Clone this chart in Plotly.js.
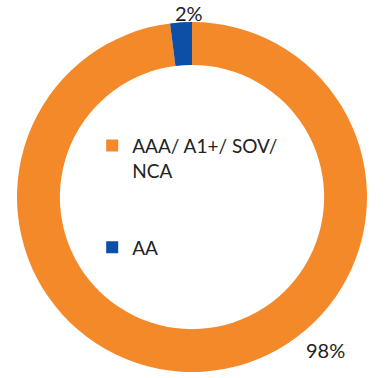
<!DOCTYPE html>
<html>
<head>
<meta charset="utf-8">
<script src="https://cdn.plot.ly/plotly-3.0.1.min.js"></script>
<style>html,body{margin:0;padding:0;background:#fff;}#chart{width:389px;height:378px;}</style>
</head>
<body>
<div id="chart"></div>
<script>
var categories = ["AAA/ A1+/ SOV/<br>NCA<br> <br> ", "AA"];
var values = [98, 2];
var percentLabels = ["98%", "2%"];
var colors = ["#F4892A", "#0C4FA6"];

var data = [{
  type: "pie",
  labels: categories,
  values: values,
  sort: false,
  direction: "clockwise",
  rotation: 0,
  hole: 0.755,
  textinfo: "none",
  marker: {colors: colors, line: {width: 0}},
  domain: {x: [16/389, 368/389], y: [1 - 372/378, 1 - 22/378]},
  hoverinfo: "label+percent"
}];

var layout = {
  width: 389, height: 378,
  margin: {l: 0, r: 0, t: 0, b: 0},
  paper_bgcolor: "#fff",
  font: {family: "Lato, 'Open Sans', sans-serif", color: "#222", size: 19},
  showlegend: true,
  legend: {x: 0.237, y: 0.665, xanchor: "left", yanchor: "top", valign: "top",
           bgcolor: "rgba(0,0,0,0)", font: {size: 19, color: "#222"}, itemwidth: 30},
  annotations: [
    {text: percentLabels[1], x: 189/389, y: 1, xref: "paper", yref: "paper",
     xanchor: "center", yanchor: "top", borderpad: 0, showarrow: false, font: {size: 20, color: "#222"}},
    {text: percentLabels[0], x: 325/389, y: 1 - 350/378, xref: "paper", yref: "paper",
     xanchor: "center", yanchor: "middle", showarrow: false, font: {size: 20, color: "#222"}}
  ]
};

Plotly.newPlot("chart", data, layout, {displayModeBar: false, staticPlot: true});
</script>
</body>
</html>
